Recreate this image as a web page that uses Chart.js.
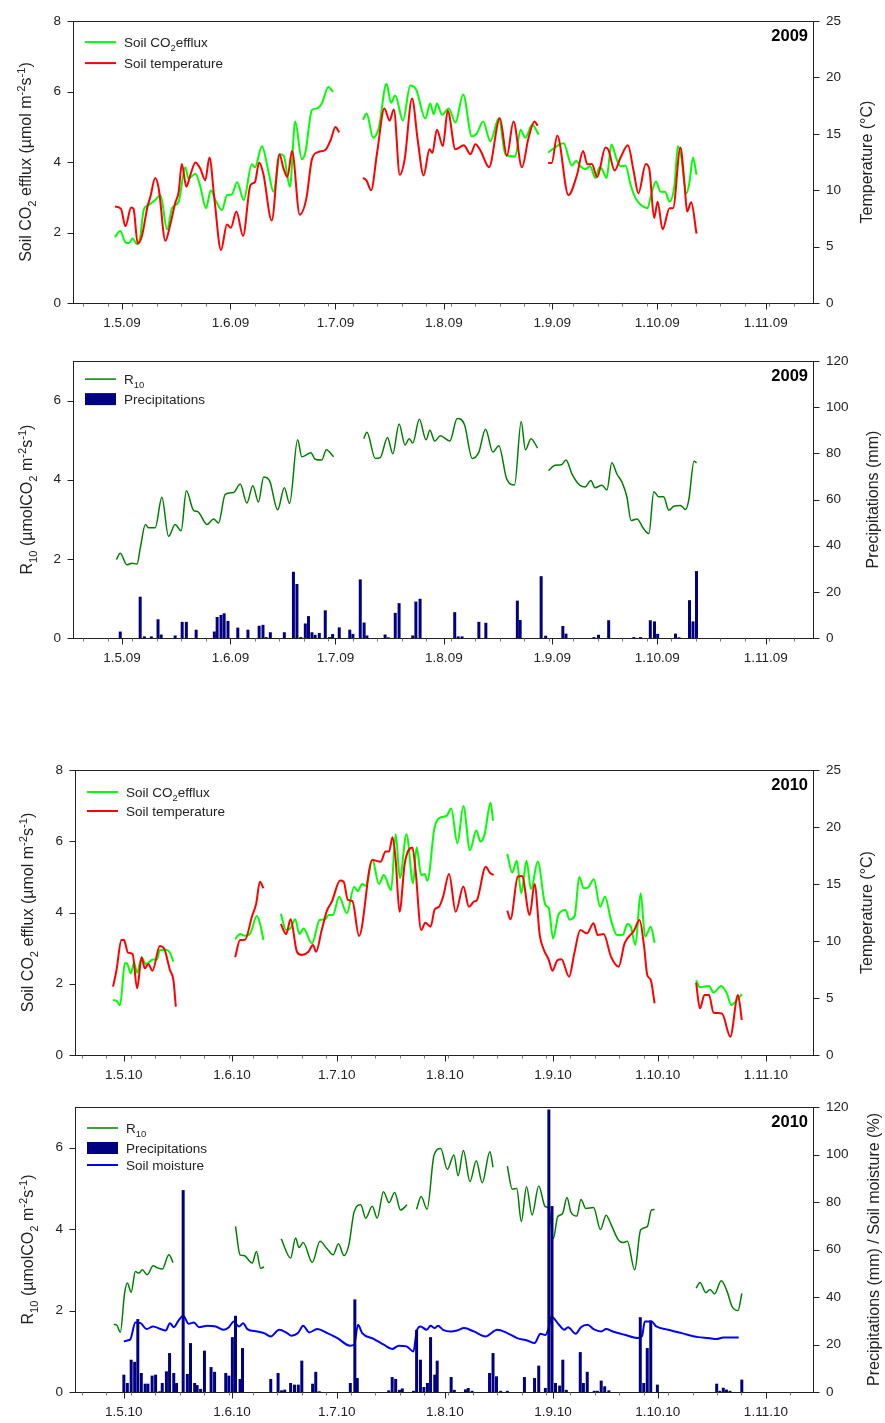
<!DOCTYPE html>
<html>
<head>
<meta charset="utf-8">
<script src="https://cdn.jsdelivr.net/npm/chart.js@4.4.1/dist/chart.umd.min.js"></script>
<style>
  body { margin: 0; background: #fff; }
  #page { position: relative; width: 885px; height: 1423px; }
  #page canvas { position: absolute; left: 0; }
</style>
</head>
<body>
<div id="page">
  <canvas id="eff09" width="885" height="340" style="top:0px"></canvas>
  <canvas id="r1009" width="885" height="340" style="top:340px"></canvas>
  <canvas id="eff10" width="885" height="400" style="top:680px"></canvas>
  <canvas id="r1010" width="885" height="343" style="top:1080px"></canvas>
</div>
<script>
// ================== DATA (x = days since 1 May) ==================
const monthDays = [0, 31, 61, 92, 123, 153, 184];
const monthLabels09 = ["1.5.09", "1.6.09", "1.7.09", "1.8.09", "1.9.09", "1.10.09", "1.11.09"];
const monthLabels10 = ["1.5.10", "1.6.10", "1.7.10", "1.8.10", "1.9.10", "1.10.10", "1.11.10"];
// weekly minor ticks (Mondays)
const mondays09 = [-11, -4, 3, 10, 17, 24, 38, 45, 52, 59, 66, 73, 80, 87, 94, 101, 108, 115, 122, 129, 136, 143, 150, 157, 164, 171, 178, 185, 192];
const mondays10 = [-12, -5, 2, 9, 16, 23, 30, 37, 44, 51, 58, 65, 72, 79, 86, 93, 100, 107, 114, 121, 128, 135, 142, 149, 156, 163, 170, 177, 191];

// 2009 soil CO2 efflux [day, µmol m-2 s-1]
const efflux09 = [
  [-2, 1.87], [-0.5, 2.04], [1, 1.72], [2, 1.7], [3, 1.83], [4.3, 1.67], [5.2, 1.86], [6.2, 2.64], [7.6, 2.78], [9.5, 2.92],
  [11, 3.06], [12.9, 2.09], [14.3, 2.69], [16.2, 2.88], [18.1, 3.85], [19, 3.53], [21, 3.67], [22.4, 3.3], [24, 2.69], [25.4, 3.2],
  [26.7, 2.92], [28.6, 2.64], [30, 3.06], [31.4, 3.08], [32.9, 3.43], [34.8, 2.92], [37.1, 3.94], [38, 3.85], [40, 4.45], [41.9, 3.71],
  [43.3, 3.16], [45.2, 4.22], [46.2, 4.18], [48, 3.3], [49.5, 5.15], [51.4, 4.08], [52.4, 4.27], [54.3, 5.48], [55.7, 5.52], [57.1, 5.66],
  [59, 6.13], [60.3, 5.99], [64, null],
  [68.9, 5.2], [69.9, 5.38], [71.8, 4.69], [73.4, 4.97], [75.6, 6.22], [76.9, 5.68], [78.1, 5.89], [80.3, 5.18], [82.4, 6.17], [84.1, 6.05],
  [86.7, 5.24], [88.1, 5.66], [89.1, 5.36], [90, 5.66], [91.5, 5.34], [93.4, 5.52], [95.3, 5.12], [97.5, 5.92], [100, 4.73], [101.5, 4.83],
  [103.2, 5.15], [105.3, 4.59], [107.7, 5.24], [109.6, 4.22], [112.4, 4.16], [113.9, 4.92], [115.3, 4.69], [117.2, 5.06], [119.1, 4.78], [120.5, null],
  [121.8, 4.27], [123.3, 4.38], [126.2, 4.53], [128.6, 3.9], [129.8, 4.04], [131, 3.88], [132.4, 3.8], [133.8, 3.88], [135.3, 3.55], [136.5, 3.85],
  [137.2, 3.8], [138.5, 3.55], [139.9, 4.5], [141.3, 4.1], [142.5, 3.88], [143.9, 3.9], [145.4, 3.34], [146.8, 2.97], [148.3, 2.78], [150.2, 2.69],
  [151.2, 3.06], [152.6, 3.45], [153.9, 3.16], [155.2, 3.16], [156.5, 2.88], [157.9, 3.34], [158.9, 4.45], [159.8, 4.18], [161.3, 3.11], [162.2, 3.43],
  [163.2, 4.13], [164.2, 3.64]
];

// 2009 soil temperature [day, °C]
const temp09 = [
  [-2, 8.56], [-0.3, 8.35], [1, 6.8], [2.6, 8.47], [3.3, 8.35], [4.5, 5.28], [5.7, 5.95], [7.3, 8.56], [8.1, 9.4], [9.5, 11.08],
  [10.5, 10.15], [12.4, 5.51], [13.8, 6.96], [15.2, 8.85], [16.2, 9.86], [17.1, 12.33], [18.4, 10.3], [19.5, 11.31], [21, 12.47], [22.4, 11.9],
  [23.8, 10.88], [25, 12.9], [26.4, 9.28], [28.3, 4.7], [30, 6.96], [31.1, 6.67], [32.7, 8.12], [34.6, 5.95], [36.7, 10.44], [38, 10.73],
  [39.2, 12.47], [40.4, 11.46], [42.8, 7.31], [45, 13.2], [46.2, 11.9], [47.3, 11.17], [48.6, 13.49], [50.8, 7.83], [52.7, 9.28], [54.3, 12.76],
  [56.2, 13.4], [58.1, 13.57], [59.7, 14.5], [61, 15.6], [62.1, 15.14], [65, null],
  [68.9, 11.1], [69.9, 10.85], [71.2, 10.0], [72.9, 13.3], [75, 17.26], [76.5, 16.18], [77.7, 17.17], [79.4, 11.37], [80.8, 12.76], [82.9, 18.13],
  [84.5, 14.5], [86.2, 11.31], [87.9, 13.63], [88.7, 13.3], [90, 15.37], [91.7, 13.92], [93.1, 17.05], [95.3, 13.63], [97.7, 13.98], [99.6, 13.2],
  [101, 14.07], [102.5, 13.49], [104.9, 12.04], [108, 16.39], [110, 13.05], [111.9, 16.1], [114.3, 12.04], [116.2, 14.65], [117.9, 16.1], [118.8, 15.72],
  [120.5, null],
  [121.8, 12.41], [122.8, 12.41], [124.4, 14.85], [127.6, 9.57], [130, 11.31], [131.8, 13.49], [133, 12.3], [134.3, 12.33], [135.8, 11.17], [138.2, 13.78],
  [139, 13.6], [140.8, 11.75], [142.5, 12.9], [144.6, 13.98], [146.2, 11.75], [147.6, 9.72], [149.7, 12.33], [150.7, 11.9], [152.1, 7.54], [153.1, 8.99],
  [154.5, 6.53], [156.5, 8.41], [157.5, 8.41], [159.6, 13.78], [160.8, 10.44], [161.5, 8.12], [162.7, 8.93], [164.2, 6.15]
];

// 2009 R10 [day, µmol CO2 m-2 s-1]
const r10_09 = [
  [-1.6, 1.98], [-0.5, 2.14], [1.4, 1.85], [2.9, 1.89], [4.3, 1.87], [5.2, 2.26], [6.7, 2.87], [7.6, 2.79], [9.5, 2.79], [11.4, 3.56],
  [13.3, 2.57], [15.2, 2.87], [16.9, 2.71], [18.4, 3.72], [20.5, 3.22], [21.6, 3.2], [24.3, 2.87], [26.2, 3.01], [27.6, 2.91], [29.5, 3.63],
  [31.9, 3.68], [33.8, 3.89], [35.7, 3.41], [37.4, 3.85], [39, 3.44], [40.5, 4.07], [42.2, 3.97], [44.5, 3.24], [46.4, 3.8], [47.9, 3.4],
  [50.2, 5.01], [51.4, 4.58], [54, 4.68], [55.2, 4.52], [57.1, 4.5], [58.4, 4.76], [60.5, 4.58], [64, null],
  [69.1, 5.04], [70, 5.2], [72.4, 4.54], [73.8, 4.56], [75.9, 5.07], [77.4, 4.66], [79.2, 5.41], [80.9, 4.88], [82.1, 5.04], [83.1, 4.93],
  [85, 5.53], [86.9, 5.01], [88, 5.25], [89.4, 4.98], [91, 5.11], [93.7, 4.98], [95.8, 5.55], [97.9, 5.39], [100.1, 4.54], [102, 4.7],
  [103.9, 5.28], [106, 4.7], [107.7, 4.86], [110, 4.01], [112.2, 3.87], [114.1, 5.47], [115.3, 4.76], [116.9, 5.04], [118.8, 4.8], [120.5, null],
  [121.9, 4.23], [123.8, 4.37], [125.6, 4.38], [126.9, 4.5], [128.6, 4.15], [129.8, 3.97], [130.9, 3.86], [132.4, 3.82], [134, 3.98], [135.2, 3.8],
  [137.2, 3.86], [138.6, 3.74], [140, 4.43], [141.5, 4.14], [142.9, 3.94], [144.3, 3.57], [145.5, 2.97], [147.2, 3.01], [149.1, 2.76], [150.6, 2.64],
  [152, 3.7], [153.4, 3.57], [154.8, 3.57], [156.3, 3.23], [157.7, 3.33], [159.6, 3.35], [161.1, 3.25], [162, 3.49], [163.5, 4.47], [164.2, 4.43]
];

// 2009 daily precipitation [day, mm]
const precip09 = [
  [-0.5, 2.8], [5.2, 17.9], [6.4, 0.7], [8.4, 0.7], [10.3, 8.1], [11.2, 1.5], [15.2, 1.1], [17.2, 7], [18.4, 7], [21.2, 3.6],
  [26.4, 2.8], [27.2, 9.1], [28.3, 10], [29.2, 10.7], [30.3, 7.4], [33.1, 4.5], [36, 3.6], [39.2, 5.3], [40.3, 5.7], [41.2, 0.4],
  [42.4, 2.5], [46.4, 2.5], [49, 28.7], [50, 23.4], [51.1, 0.4], [52.4, 6.3], [53.3, 9.5], [54.3, 2.5], [55.2, 1.4], [56.4, 2.2],
  [58.1, 12], [59.3, 0.4], [60.2, 1.7], [62.1, 4.6], [65.1, 3.6], [66, 1.8], [68.1, 25.4], [69.2, 6.7], [70, 1.1], [75.2, 1.5],
  [76.1, 0.3], [78.1, 10.9], [79.2, 15.1], [83.1, 1.1], [84, 15.8], [85.2, 17], [95.1, 11.2], [96.1, 0.7], [97.2, 0.7], [102, 7],
  [104, 6.6], [113, 16.2], [113.8, 7.8], [119.8, 26.8], [121.1, 1], [126, 5.2], [126.9, 1.9], [134.9, 0.4], [136.2, 1.4], [139.1, 7.7],
  [146.3, 0.4], [148.2, 0.4], [151, 7.7], [152.2, 7.2], [153.1, 1.8], [158.2, 1.9], [159.2, 0.3], [162.2, 16.4], [163.2, 7.2], [164.2, 29]
];

// 2010 soil CO2 efflux
const efflux10 = [
  [-3.1, 1.54], [-2.1, 1.52], [-1.1, 1.4], [0.3, 2.57], [0.8, 2.58], [2, 2.29], [2.9, 2.59], [3.8, 2.31], [5.1, 2.74], [6.3, 2.55],
  [7, 2.59], [8.4, 2.68], [9.5, 2.68], [10.3, 2.95], [12.2, 2.95], [13.2, 2.87], [14.2, 2.62], [23, null],
  [31.9, 3.25], [33.3, 3.4], [34.7, 3.35], [36.2, 3.41], [38.1, 3.9], [39, 3.7], [40, 3.23], [42, null],
  [45, 3.96], [46.5, 3.51], [47.7, 3.55], [49.1, 3.81], [50.3, 3.4], [51.5, 3.55], [53.9, 3.13], [56.1, 3.79], [57.7, 3.81], [58.7, 3.93],
  [59.9, 3.93], [61.7, 4.44], [63.9, 3.98], [66, 4.72], [67, 4.6], [68.3, 4.8], [69.3, 4.75], [71.2, 5.49], [73.1, 4.8], [74.5, 5.05],
  [76.6, 4.63], [77.9, 6.2], [79.1, 4.96], [81, 6.2], [82.9, 4.82], [83.9, 5.83], [85.2, 5.05], [86.2, 5.08], [87, 4.89], [89, 6.36],
  [90.8, 6.67], [92.5, 6.71], [93.8, 6.92], [95.6, 5.94], [97.3, 6.99], [99.2, 5.75], [101, 6.3], [102.2, 5.99], [103.4, 6.2], [105.1, 7.08],
  [105.8, 6.58], [108, null],
  [109.9, 5.64], [111.3, 5.12], [112.6, 5.45], [113.9, 4.54], [115.4, 5.45], [116.7, 4.65], [118.6, 5.43], [120.8, 4.21], [121.8, 4.12], [123, 3.27],
  [124.6, 3.95], [126.6, 4.07], [127.7, 3.8], [129.2, 3.9], [130.5, 5.0], [131.8, 4.68], [133, 4.7], [134.7, 4.93], [136.5, 4.16], [137.9, 4.44],
  [139.6, 3.79], [141.3, 3.37], [143, 3.37], [144.3, 3.68], [145.3, 3.6], [146.6, 3.09], [148.1, 4.54], [149.4, 3.32], [151, 3.6], [152.1, 3.15],
  [158, null],
  [164, 2.1], [165.1, 1.9], [166.5, 1.92], [167.7, 1.94], [169, 1.75], [171.2, 1.94], [172.8, 1.73], [174.1, 1.4], [175, 1.47], [177.1, 1.71]
];

// 2010 soil temperature
const temp10 = [
  [-3.1, 6.0], [-2.1, 7.46], [-0.7, 10.09], [0, 10.1], [1.2, 8.98], [2.5, 8.86], [3.8, 5.85], [5.1, 8.57], [6, 7.6], [7, 7.98],
  [8.2, 7.4], [10.3, 9.56], [11.5, 9.36], [13.2, 7.46], [14.2, 6.58], [14.9, 4.24], [23, null],
  [31.9, 8.57], [33.3, 10.09], [34.7, 10.1], [36.7, 12.13], [37.9, 13.25], [39, 15.2], [40, 14.62], [42, null],
  [45, 11.49], [46.5, 10.61], [47.8, 11.9], [49.6, 9.06], [51, 8.77], [52.9, 9.06], [54.2, 9.65], [55.1, 9.06], [56.7, 10.96], [58.2, 12.66],
  [59.6, 13.45], [62, 15.3], [63, 15.2], [64.2, 13.6], [65.5, 13.5], [67.4, 10.44], [71.2, 17.1], [73.6, 16.96], [75, 17.84], [76, 17.84],
  [77, 19.1], [77.9, 17.1], [79, 12.57], [80.5, 16.8], [82.7, 18.2], [83.6, 16.2], [85.2, 10.96], [86.4, 11.6], [87.9, 11.26], [89.1, 12.78],
  [90.3, 13.0], [91.5, 13.9], [93.2, 15.88], [95.1, 12.57], [97.3, 14.77], [98.9, 13.0], [100.3, 13.45], [101.2, 13.6], [103.7, 16.52], [104.9, 15.99],
  [106, 15.79], [108, null],
  [109.9, 12.66], [110.8, 11.9], [112.9, 15.64], [114.1, 15.7], [116.3, 12.28], [117.7, 15], [119.2, 10.5], [120.4, 9.2], [121.8, 8.33], [122.8, 7.4],
  [124.3, 8.33], [125.4, 8.39], [127.6, 6.87], [129.1, 8.92], [130.8, 10.96], [132.7, 10.67], [134.6, 11.55], [135.8, 10.53], [137.5, 10.61], [139.6, 8.63],
  [141.8, 7.75], [143.5, 9.8], [146.2, 10.9], [147.8, 11.84], [149.1, 9.5], [150, 7.02], [151, 6.58], [152.1, 4.53], [158, null],
  [164, 6.35], [165.1, 4.09], [166.4, 5.26], [167.7, 5.26], [169, 3.71], [171.4, 3.65], [173.8, 1.61], [176, 5.26], [177.1, 3.07]
];

// 2010 R10
const r10_10 = [
  [-2.9, 1.66], [-2, 1.64], [-1, 1.47], [0.2, 2.42], [1, 2.68], [2.1, 2.45], [3.3, 2.96], [4.3, 2.92], [5.3, 3.0], [6.7, 2.88],
  [8.4, 3.1], [9.6, 3.05], [11, 3.02], [12.9, 3.37], [14.1, 3.18], [23, null],
  [32, 4.07], [33.3, 3.37], [34.4, 3.35], [36.8, 3.17], [38, 3.45], [39.2, 3.04], [40.2, 3.07], [42, null],
  [45.1, 3.76], [47.8, 3.29], [49.2, 3.78], [50.2, 3.55], [51.4, 3.67], [54, 3.18], [56.2, 3.7], [58.3, 3.51], [60, 3.37], [61.5, 3.64],
  [63.1, 3.35], [64.5, 3.62], [66, 4.43], [67.9, 4.6], [69.3, 4.27], [71.2, 4.56], [72.6, 4.27], [74.4, 4.92], [76, 4.65], [77.6, 4.9],
  [79.3, 4.47], [81.2, 4.6], [82.5, null],
  [83.9, 4.49], [85.2, 4.8], [86.9, 4.49], [88.9, 5.82], [90.8, 5.98], [92.7, 5.47], [94.6, 5.82], [95.8, 5.31], [97.3, 5.93], [99.2, 5.17],
  [101, 5.68], [102.7, 5.14], [104.9, 5.9], [105.8, 5.52], [108, null],
  [109.9, 5.55], [111.3, 4.98], [112.6, 5.0], [113.9, 4.19], [115.4, 5.04], [117, 4.35], [118.9, 5.06], [120.7, 4.56], [121.8, 4.5], [123.1, 3.77],
  [124.3, 4.3], [125.7, 4.38], [127, 4.78], [128.1, 4.42], [129.8, 4.32], [131, 4.73], [132.4, 4.51], [134.6, 4.53], [136.6, 3.99], [138.2, 4.34],
  [139.7, 4.1], [141.6, 3.75], [143, 3.67], [144.3, 3.7], [146.4, 3.0], [148.1, 3.98], [150, 4.06], [151.2, 4.47], [152.1, 4.48], [158, null],
  [164, 2.55], [165.1, 2.69], [166.8, 2.44], [168, 2.52], [169.3, 2.41], [171.2, 2.73], [172.8, 2.49], [174.3, 2.1], [176, 2.0], [177.1, 2.42]
];

// 2010 soil moisture [day, %]
const moisture10 = [
  [0, 21.3], [1, 21.7], [1.9, 22.3], [3.3, 29.3], [4.8, 29], [6.5, 26.5], [8.4, 27.6], [10.5, 26.5], [12, 25.9], [13.2, 29],
  [14.3, 27.3], [15.8, 30.4], [17, 32.1], [18.6, 28.7], [20.1, 29.3], [21.5, 27.3], [23.9, 27.9], [26.3, 27.6], [28.7, 26.2], [30.1, 27.3],
  [31.5, 29.7], [33, 27.6], [34.2, 29], [35.4, 26.5], [38.2, 25.5], [40.2, 24.8], [42.1, 23.4], [44.5, 26.2], [46.8, 24.8], [48, 23.7],
  [49.9, 24.8], [51.4, 27.9], [53.1, 25.1], [55.4, 26.5], [58.3, 24.8], [61.2, 22.7], [64.8, 19.5], [66, 19.8], [67.1, 28.3], [68.3, 24.8],
  [71.7, 22.3], [74.5, 19.9], [76.9, 18.1], [78.8, 19.5], [81, 19.2], [83, 17.1], [83.9, 25.5], [85, 27.6], [86.8, 26.2], [87.9, 27.9],
  [89.1, 26.9], [90, 27.9], [91.5, 26.2], [93.6, 25.5], [95.5, 25.9], [97.5, 26.9], [100.3, 25.5], [103.7, 23.4], [107, 26.2], [109.9, 24.8],
  [112.7, 22.7], [115.6, 21.7], [117.7, 20.6], [119.4, 24.5], [120.8, 24], [121.8, 27.3], [122.5, 31.8], [124.7, 28.3], [126.2, 26.2], [127.3, 27.3],
  [129.5, 24.5], [131, 27.3], [132.9, 28.3], [134.6, 26.5], [136.8, 25.5], [138.2, 26.5], [140.1, 25.5], [143.5, 24.1], [147.3, 22.7], [148.5, 23.5],
  [149.3, 29.7], [151.2, 29.7], [152.6, 27.6], [156, 26.2], [159.8, 24.8], [164.6, 23.1], [167.5, 22.7], [169.9, 22.3], [171.8, 23], [176.2, 23]
];

// 2010 daily precipitation [day, mm]
const precip10 = [
  [0, 7.3], [1, 3.8], [2.1, 13.6], [3.1, 12.7], [4, 30.7], [5, 8], [6.1, 3.5], [6.9, 3.5], [8.1, 6.9], [9.1, 7.3],
  [10.3, 0.3], [11, 3.8], [12.2, 8.7], [13.1, 16.4], [14.3, 8], [15.1, 3.8], [17, 85], [18.2, 7.6], [19.1, 20.6], [20.3, 3.8],
  [21, 2.9], [22, 1.3], [23.1, 17.4], [25, 10.5], [26, 8.5], [29.2, 8], [30.1, 6.9], [31.1, 23.1], [32, 32.1], [33.3, 5.5],
  [34, 18.5], [42.1, 5.5], [44.2, 8], [45.2, 0.7], [46.1, 1], [47.8, 3.8], [48.9, 3.1], [50, 3.1], [51, 13.2], [54.1, 3.5],
  [55, 8.5], [56, 0.3], [64.9, 3.8], [66.2, 39], [66.9, 5.9], [75.9, 0.7], [76.9, 6.3], [77.9, 5.5], [79, 0.9], [79.8, 1.5],
  [83, 0.5], [83.9, 26.2], [85, 13.6], [86, 2.1], [87, 3.8], [87.9, 23.1], [89.1, 7.3], [89.8, 13.2], [93.8, 6.3], [94.7, 0.9],
  [97.9, 1.1], [98.7, 1.7], [99.8, 0.5], [104.8, 8], [105.8, 16.4], [106.8, 6.6], [108, 0.5], [109.9, 0.5], [114.8, 6.3], [117.7, 5.9],
  [118.9, 11.1], [120.8, 1.7], [121.8, 119], [122.7, 78.3], [123.7, 3.8], [124.9, 2.7], [125.8, 13.6], [126.8, 0.9], [130.8, 16.8], [131.7, 3.8],
  [132.8, 8.5], [134.8, 0.5], [135.7, 0.5], [136.8, 4.8], [137.8, 2.4], [139, 0.7], [148, 31.5], [149, 3.8], [150, 18.5], [151, 30.1],
  [152.9, 3.1], [169.9, 3.5], [170.8, 0.5], [171.8, 1.8], [172.7, 1], [173.7, 0.5], [177.1, 5.2]
];

// ================== STYLE ==================
const FONT = '"Liberation Sans", Arial, sans-serif';
const INK = "#222";
const X_MIN = -14;
const X_MAX = 197.5;

// ================== HELPERS ==================
const toPoints = (pairs) => pairs.map(([x, y]) => ({ x, y }));

// draws text made of [string, "" | "sub" | "sup"] parts
function drawRich(ctx, parts, x, y, size, opts = {}) {
  const small = size * 0.7;
  ctx.save();
  ctx.translate(x, y);
  if (opts.rotate) ctx.rotate(opts.rotate);
  const widths = parts.map(([t, k]) => {
    ctx.font = `${k ? small : size}px ${FONT}`;
    return ctx.measureText(t).width;
  });
  const total = widths.reduce((a, b) => a + b, 0);
  let cx = opts.align === "center" ? -total / 2 : 0;
  ctx.textAlign = "left";
  ctx.textBaseline = "alphabetic";
  ctx.fillStyle = opts.color || INK;
  const base = size * 0.36;
  parts.forEach(([t, k], i) => {
    ctx.font = `${k ? small : size}px ${FONT}`;
    const dy = k === "sub" ? size * 0.3 : k === "sup" ? -size * 0.38 : 0;
    ctx.fillText(t, cx, base + dy);
    cx += widths[i];
  });
  ctx.restore();
}

// frame, tick marks, axis titles, legend and year label
function decorPlugin(p) {
  return {
    id: "decor",
    afterDraw(chart) {
      const ctx = chart.ctx;
      const a = chart.chartArea;
      const L = Math.round(a.left) + 0.5, R = Math.round(a.right) + 0.5;
      const T = Math.round(a.top) + 0.5, B = Math.round(a.bottom) + 0.5;
      ctx.save();
      ctx.lineWidth = 1;
      ctx.strokeStyle = INK;
      ctx.strokeRect(L, T, R - L, B - T);

      const sx = chart.scales.x;
      ctx.beginPath();
      monthDays.forEach((d) => {
        const px = Math.round(sx.getPixelForValue(d)) + 0.5;
        ctx.moveTo(px, B); ctx.lineTo(px, B + 6);
      });
      chart.scales.y.ticks.forEach((t) => {
        const py = Math.round(chart.scales.y.getPixelForValue(t.value)) + 0.5;
        ctx.moveTo(L - 6, py); ctx.lineTo(L, py);
      });
      chart.scales.y1.ticks.forEach((t) => {
        const py = Math.round(chart.scales.y1.getPixelForValue(t.value)) + 0.5;
        ctx.moveTo(R, py); ctx.lineTo(R + 6, py);
      });
      ctx.stroke();

      ctx.beginPath();
      ctx.strokeStyle = "#777";
      p.mondays.forEach((d) => {
        if (d <= X_MIN || d >= X_MAX) return;
        const px = Math.round(sx.getPixelForValue(d)) + 0.5;
        ctx.moveTo(px, B); ctx.lineTo(px, B + 3);
      });
      ctx.stroke();

      const midY = (a.top + a.bottom) / 2;
      drawRich(ctx, p.leftTitle, p.leftTitleX, midY, 16, { rotate: -Math.PI / 2, align: "center" });
      drawRich(ctx, [[p.rightTitle, ""]], p.rightTitleX, midY, 16, { rotate: -Math.PI / 2, align: "center" });

      ctx.font = `bold 16.5px ${FONT}`;
      ctx.fillStyle = "#000";
      ctx.textAlign = "right";
      ctx.textBaseline = "middle";
      ctx.fillText(p.year, a.right - 5, a.top + 15);

      p.legend.forEach((item) => {
        const y = a.top + item.dy;
        const x0 = a.left + 12, x1 = a.left + 43;
        if (item.box) {
          ctx.fillStyle = item.color;
          ctx.fillRect(x0, y - 6, x1 - x0, 12);
        } else {
          ctx.strokeStyle = item.color;
          ctx.lineWidth = item.width;
          ctx.beginPath();
          ctx.moveTo(x0, y); ctx.lineTo(x1, y);
          ctx.stroke();
        }
        drawRich(ctx, item.parts, a.left + 51, y, 13.5);
      });
      ctx.restore();
    },
  };
}

function buildPanel(id, p, datasets) {
  const canvas = document.getElementById(id);
  const H = canvas.height;
  const tickFont = { family: FONT, size: 13.5 };
  const xTicks = monthDays.concat(p.mondays).filter((d) => d > X_MIN && d < X_MAX).sort((a, b) => a - b);
  return new Chart(canvas, {
    type: "line",
    data: { datasets },
    options: {
      responsive: false,
      animation: false,
      events: [],
      layout: { padding: { top: p.plotTop, left: 0, right: 0, bottom: 0 } },
      plugins: { legend: { display: false }, tooltip: { enabled: false } },
      scales: {
        x: {
          type: "linear",
          min: X_MIN,
          max: X_MAX,
          offset: false,
          grid: { display: false, drawTicks: false },
          border: { display: false },
          afterBuildTicks: (s) => { s.ticks = xTicks.map((v) => ({ value: v })); },
          afterFit: (s) => { s.height = H - p.plotBottom; },
          ticks: {
            autoSkip: false,
            maxRotation: 0,
            padding: 12,
            font: tickFont,
            color: INK,
            callback: (v) => {
              const i = monthDays.indexOf(v);
              return i >= 0 ? p.labels[i] : "";
            },
          },
        },
        y: {
          position: "left",
          min: 0,
          max: p.leftMax,
          grid: { display: false, drawTicks: false },
          border: { display: false },
          afterBuildTicks: (s) => { s.ticks = p.leftTicks.map((v) => ({ value: v })); },
          afterFit: (s) => { s.width = p.plotLeft; },
          ticks: { padding: 12, font: tickFont, color: INK },
        },
        y1: {
          position: "right",
          min: 0,
          max: p.rightMax,
          grid: { display: false, drawTicks: false },
          border: { display: false },
          afterBuildTicks: (s) => { s.ticks = p.rightTicks.map((v) => ({ value: v })); },
          afterFit: (s) => { s.width = 885 - 813; },
          ticks: { padding: 13, font: tickFont, color: INK },
        },
      },
    },
    plugins: [decorPlugin(p)],
  });
}

function lineSet(pairs, color, width, axis, order) {
  return {
    type: "line",
    data: toPoints(pairs),
    borderColor: color,
    borderWidth: width,
    pointRadius: 0,
    cubicInterpolationMode: "monotone",
    spanGaps: false,
    yAxisID: axis,
    order,
  };
}

function barSet(pairs) {
  return {
    type: "bar",
    data: toPoints(pairs),
    backgroundColor: "#000080",
    barThickness: 3,
    borderWidth: 0,
    inflateAmount: 0,
    yAxisID: "y1",
    order: 0,
  };
}

// ================== TITLES / LEGENDS ==================
const effluxTitle = [["Soil CO", ""], ["2", "sub"], [" efflux (µmol m", ""], ["-2", "sup"], ["s", ""], ["-1", "sup"], [")", ""]];
const r10Title = [["R", ""], ["10", "sub"], [" (µmolCO", ""], ["2", "sub"], [" m", ""], ["-2", "sup"], ["s", ""], ["-1", "sup"], [")", ""]];
const effluxLegend = [["Soil CO", ""], ["2", "sub"], ["efflux", ""]];
const tempLegend = [["Soil temperature", ""]];
const r10Legend = [["R", ""], ["10", "sub"]];
const precipLegend = [["Precipitations", ""]];
const moistureLegend = [["Soil moisture", ""]];

// ================== PANELS ==================
buildPanel("eff09", {
  plotTop: 16, plotBottom: 303, plotLeft: 73,
  leftMax: 8, leftTicks: [0, 2, 4, 6, 8], rightMax: 25, rightTicks: [0, 5, 10, 15, 20, 25],
  labels: monthLabels09, mondays: mondays09, year: "2009",
  leftTitle: effluxTitle, leftTitleX: 25, rightTitle: "Temperature (°C)", rightTitleX: 866,
  legend: [
    { color: "#00ff00", width: 2, dy: 21, parts: effluxLegend },
    { color: "#ff0000", width: 2, dy: 42, parts: tempLegend },
  ],
}, [
  lineSet(temp09, "#ff0000", 2, "y1", 0),
  lineSet(efflux09, "#00ff00", 2, "y", 1),
]);

buildPanel("r1009", {
  plotTop: 11, plotBottom: 298, plotLeft: 73,
  leftMax: 7, leftTicks: [0, 2, 4, 6], rightMax: 120, rightTicks: [0, 20, 40, 60, 80, 100, 120],
  labels: monthLabels09, mondays: mondays09, year: "2009",
  leftTitle: r10Title, leftTitleX: 26, rightTitle: "Precipitations (mm)", rightTitleX: 872,
  legend: [
    { color: "#008000", width: 1.5, dy: 18, parts: r10Legend },
    { color: "#000080", box: true, dy: 38, parts: precipLegend },
  ],
}, [
  barSet(precip09),
  lineSet(r10_09, "#008000", 1.5, "y", 1),
]);

buildPanel("eff10", {
  plotTop: 90, plotBottom: 375, plotLeft: 75,
  leftMax: 8, leftTicks: [0, 2, 4, 6, 8], rightMax: 25, rightTicks: [0, 5, 10, 15, 20, 25],
  labels: monthLabels10, mondays: mondays10, year: "2010",
  leftTitle: effluxTitle, leftTitleX: 27, rightTitle: "Temperature (°C)", rightTitleX: 866,
  legend: [
    { color: "#00ff00", width: 2, dy: 22, parts: effluxLegend },
    { color: "#ff0000", width: 2, dy: 41, parts: tempLegend },
  ],
}, [
  lineSet(temp10, "#ff0000", 2, "y1", 0),
  lineSet(efflux10, "#00ff00", 2, "y", 1),
]);

buildPanel("r1010", {
  plotTop: 27, plotBottom: 312, plotLeft: 75,
  leftMax: 7, leftTicks: [0, 2, 4, 6], rightMax: 120, rightTicks: [0, 20, 40, 60, 80, 100, 120],
  labels: monthLabels10, mondays: mondays10, year: "2010",
  leftTitle: r10Title, leftTitleX: 27, rightTitle: "Precipitations (mm) / Soil moisture (%)", rightTitleX: 873,
  legend: [
    { color: "#008000", width: 1.5, dy: 21, parts: r10Legend },
    { color: "#000080", box: true, dy: 41, parts: precipLegend },
    { color: "#0000ff", width: 2, dy: 58, parts: moistureLegend },
  ],
}, [
  barSet(precip10),
  lineSet(moisture10, "#0000ff", 2, "y1", 1),
  lineSet(r10_10, "#008000", 1.5, "y", 2),
]);
</script>
</body>
</html>
